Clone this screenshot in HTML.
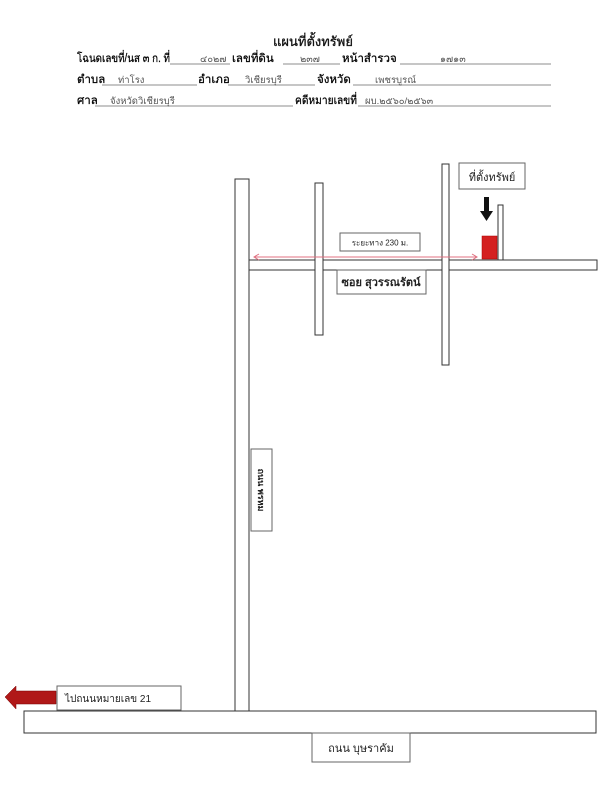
<!DOCTYPE html>
<html><head><meta charset="utf-8"><style>
html,body{margin:0;padding:0;background:#fff;}
svg{display:block;font-family:"Liberation Sans","DejaVu Sans",sans-serif;}
.h{font-size:11.5px;font-weight:normal;fill:#000;stroke:#000;stroke-width:0.25;}
.v{font-size:9.5px;fill:#555;}
.u{stroke:#666;stroke-width:0.8;}
.r{fill:#fff;stroke:#333;stroke-width:1;}
.b{fill:#fff;stroke:#666;stroke-width:1;}
</style></head><body>
<svg width="610" height="800" viewBox="0 0 610 800" xmlns="http://www.w3.org/2000/svg">
<text x="313" y="46" text-anchor="middle" style="font-size:13px;fill:#111;stroke:#111;stroke-width:0.3">แผนที่ตั้งทรัพย์</text>
<!-- row 1 -->
<text class="h" x="77" y="62" textLength="93" lengthAdjust="spacingAndGlyphs">โฉนดเลขที่/นส ๓ ก. ที่</text>
<line class="u" x1="170" y1="64" x2="230" y2="64"/><text class="v" x="200" y="62">๔๐๒๗</text>
<text class="h" x="232" y="62">เลขที่ดิน</text>
<line class="u" x1="283" y1="64" x2="340" y2="64"/><text class="v" x="300" y="62">๒๓๗</text>
<text class="h" x="342" y="62">หน้าสำรวจ</text>
<line class="u" x1="400" y1="64" x2="551" y2="64"/><text class="v" x="440" y="62">๑๗๑๓</text>
<!-- row 2 -->
<text class="h" x="77" y="83">ตำบล</text>
<line class="u" x1="102" y1="85" x2="197" y2="85"/><text class="v" x="118" y="83">ท่าโรง</text>
<text class="h" x="198" y="83">อำเภอ</text>
<line class="u" x1="228" y1="85" x2="315" y2="85"/><text class="v" x="245" y="83">วิเชียรบุรี</text>
<text class="h" x="317" y="83">จังหวัด</text>
<line class="u" x1="353" y1="85" x2="551" y2="85"/><text class="v" x="375" y="83">เพชรบูรณ์</text>
<!-- row 3 -->
<text class="h" x="77" y="104">ศาล</text>
<line class="u" x1="95" y1="106" x2="293" y2="106"/><text class="v" x="110" y="104">จังหวัดวิเชียรบุรี</text>
<text class="h" x="295" y="104" textLength="62" lengthAdjust="spacingAndGlyphs">คดีหมายเลขที่</text>
<line class="u" x1="358" y1="106" x2="551" y2="106"/><text class="v" x="365" y="104">ผบ.๒๕๖๐/๒๕๖๓</text>

<!-- roads -->
<rect class="r" x="24" y="711" width="572" height="22"/>
<rect class="r" x="235" y="179" width="14" height="532"/>
<rect class="r" x="249" y="260" width="348" height="10"/>
<rect class="r" x="315" y="183" width="8" height="152"/>
<rect class="r" x="442" y="164" width="7" height="201"/>
<rect class="r" x="498" y="205" width="5" height="55"/>
<rect x="482" y="236" width="15" height="23" fill="#d42020" stroke="#a00" stroke-width="0.5"/>

<!-- black arrow -->
<rect x="484" y="197" width="5" height="15" fill="#111"/>
<polygon points="480,211 493,211 486.5,221" fill="#111"/>

<!-- labels -->
<rect class="b" x="459" y="163" width="66" height="26"/>
<text x="492" y="181" text-anchor="middle" style="font-size:11px;fill:#222">ที่ตั้งทรัพย์</text>
<rect class="b" x="340" y="233" width="80" height="18"/>
<text x="380" y="245.5" text-anchor="middle" style="font-size:8px;fill:#222">ระยะทาง 230 ม.</text>
<line x1="254" y1="257" x2="477" y2="257" stroke="#e07080" stroke-width="1"/>
<polyline points="259,254 254,257 259,260" fill="none" stroke="#e07080"/>
<polyline points="472,254 477,257 472,260" fill="none" stroke="#e07080"/>
<rect class="b" x="337" y="270" width="89" height="24"/>
<text x="381" y="286" text-anchor="middle" style="font-size:11px;font-weight:bold;fill:#222">ซอย สุวรรณรัตน์</text>

<rect class="b" x="251" y="449" width="21" height="82"/>
<text transform="translate(258,490) rotate(90)" text-anchor="middle" style="font-size:9px;font-weight:bold;fill:#222">ถนน พรหม</text>

<rect class="b" x="57" y="686" width="124" height="24"/>
<text x="65" y="702" style="font-size:10px;fill:#222">ไปถนนหมายเลข 21</text>
<polygon points="5,697 16,686 16,691 56,691 56,704 16,704 16,709" fill="#b01818" stroke="#700" stroke-width="0.5"/>

<rect class="b" x="312" y="733" width="98" height="29"/>
<text x="361" y="752" text-anchor="middle" style="font-size:11px;fill:#222">ถนน  บุษราคัม</text>
</svg>
</body></html>
